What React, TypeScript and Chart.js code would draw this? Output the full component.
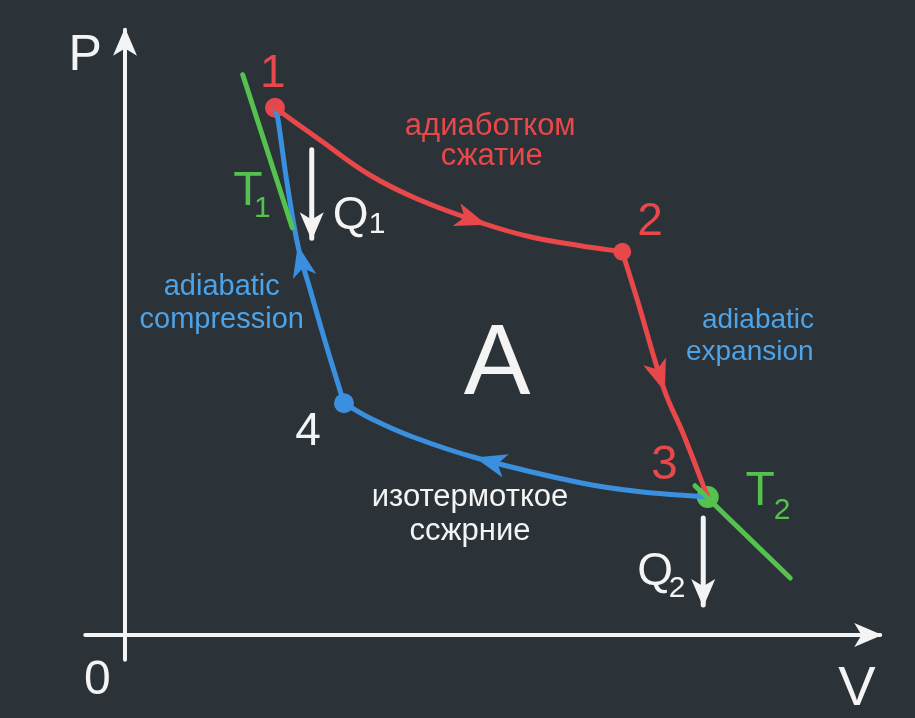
import { useEffect, useRef } from "react";
import { Chart, registerables } from "chart.js";

Chart.register(...registerables);

const BG = "#2b3338";
const RED = "#e8484a";
const BLUE = "#3a8fdf";
const BLUE_TXT = "#4ea2e6";
const GREEN = "#55c24f";
const WHITE = "#f4f4f4";
const FONT = '"Liberation Sans", Arial, Helvetica, sans-serif';

// Cycle curves in (V, P) units
const curve12 = [[2.0, 7.03], [2.6, 6.6], [3.27, 6.13], [3.93, 5.8], [4.8, 5.48], [5.4, 5.31], [6.07, 5.19], [6.63, 5.11]];
const curve23 = [[6.63, 5.11], [6.83, 4.47], [7.19, 3.27], [7.44, 2.69], [7.77, 1.84]];
const curve34 = [[7.77, 1.84], [6.87, 1.91], [6.07, 2.03], [4.69, 2.36], [3.84, 2.64], [3.27, 2.89], [2.92, 3.09]];
const curve41 = [[2.92, 3.09], [2.69, 3.84], [2.47, 4.6], [2.31, 5.17], [2.16, 6.03], [2.04, 6.87], [2.0, 7.03]];
const tangentT1 = [[1.57, 7.47], [2.23, 5.43]];
const tangentT2 = [[7.6, 1.99], [8.87, 0.76]];
const heatQ1 = [[2.49, 6.47], [2.49, 5.29]];
const heatQ2 = [[7.71, 1.56], [7.71, 0.4]];
const axisP = [[0, -0.33], [0, 8.07]];
const axisV = [[-0.53, 0], [10.07, 0]];
const statePoints = [[2.0, 7.03], [6.63, 5.11], [7.77, 1.84], [2.92, 3.09]];
const stateColors = ["#e4474c", "#e4474c", GREEN, BLUE];
const stateRadius = [10, 9, 11, 10];

// Labels: text, V, P (centre), colour, size, kind (c = caps/digits, l = lowercase)
const labels: [string, number, number, string, number, string][] = [
  ["P", -0.53, 7.77, WHITE, 50, "c"],
  ["0", -0.37, -0.55, WHITE, 48, "c"],
  ["V", 9.76, -0.67, WHITE, 56, "c"],
  ["1", 1.97, 7.53, RED, 46, "c"],
  ["2", 7.0, 5.56, RED, 46, "c"],
  ["3", 7.19, 2.31, RED, 48, "c"],
  ["4", 2.44, 2.76, WHITE, 46, "c"],
  ["адиаботком", 4.87, 6.77, RED, 31, "l"],
  ["сжатие", 4.89, 6.37, RED, 31, "l"],
  ["T", 1.64, 5.96, GREEN, 48, "c"],
  ["1", 1.83, 5.72, GREEN, 30, "c"],
  ["Q", 3.01, 5.64, WHITE, 46, "c"],
  ["1", 3.36, 5.51, WHITE, 30, "c"],
  ["adiabatic", 1.29, 4.63, BLUE_TXT, 29, "l"],
  ["compression", 1.29, 4.2, BLUE_TXT, 29, "l"],
  ["A", 4.96, 3.69, WHITE, 100, "c"],
  ["adiabatic", 8.44, 4.19, BLUE_TXT, 28, "l"],
  ["expansion", 8.33, 3.76, BLUE_TXT, 28, "l"],
  ["изотермоткое", 4.6, 1.83, WHITE, 31, "l"],
  ["ссжрние", 4.6, 1.37, WHITE, 31, "l"],
  ["T", 8.47, 1.97, GREEN, 48, "c"],
  ["2", 8.76, 1.69, GREEN, 30, "c"],
  ["Q", 7.07, 0.89, WHITE, 46, "c"],
  ["2", 7.36, 0.65, WHITE, 30, "c"],
];

const toPts = (a: number[][]) => a.map(([x, y]) => ({ x, y }));

// arrowheads: curve, index of tip, colour, length, half-width
const arrows: [number[][], number, string, number, number][] = [
  [curve12, 4, RED, 30, 12],
  [curve23, 2, RED, 30, 12],
  [curve34, 3, BLUE, 30, 12],
  [curve41, 3, BLUE, 30, 12],
  [axisP, 1, WHITE, 26, 12],
  [axisV, 1, WHITE, 26, 12],
  [heatQ1, 1, WHITE, 26, 12],
  [heatQ2, 1, WHITE, 26, 12],
];

const overlayPlugin = {
  id: "overlay",
  afterDatasetsDraw(chart: any) {
    const { ctx, scales } = chart;
    const xs = scales.x;
    const ys = scales.y;
    const px = (p: number[]) => [xs.getPixelForValue(p[0]), ys.getPixelForValue(p[1])];
    ctx.save();
    for (const [arr, i, color, L, W] of arrows) {
      const tip = px(arr[i]);
      const a = px(arr[i - 1]);
      const b = i + 1 < arr.length ? px(arr[i + 1]) : tip;
      let dx = b[0] - a[0];
      let dy = b[1] - a[1];
      const len = Math.hypot(dx, dy) || 1;
      dx /= len;
      dy /= len;
      const nx = -dy;
      const ny = dx;
      ctx.fillStyle = color;
      ctx.beginPath();
      ctx.moveTo(tip[0] + dx * 2, tip[1] + dy * 2);
      ctx.lineTo(tip[0] - dx * L + nx * W, tip[1] - dy * L + ny * W);
      ctx.lineTo(tip[0] - dx * L * 0.72, tip[1] - dy * L * 0.72);
      ctx.lineTo(tip[0] - dx * L - nx * W, tip[1] - dy * L - ny * W);
      ctx.closePath();
      ctx.fill();
    }
    ctx.textAlign = "center";
    ctx.textBaseline = "alphabetic";
    for (const [t, x, y, c, s, k] of labels) {
      const [cx, cy] = px([x, y]);
      ctx.font = `${s}px ${FONT}`;
      ctx.fillStyle = c;
      ctx.fillText(t, cx, cy + (k === "c" ? 0.36 : 0.26) * s);
    }
    ctx.restore();
  },
};

const lineDs = (data: number[][], color: string, width: number, tension: number) => ({
  data: toPts(data),
  showLine: true,
  borderColor: color,
  borderWidth: width,
  pointRadius: 0,
  tension,
  borderCapStyle: "round",
  fill: false,
});

export default function App() {
  const ref = useRef<HTMLCanvasElement | null>(null);
  useEffect(() => {
    if (!ref.current) return;
    const chart = new Chart(ref.current, {
      type: "scatter",
      data: {
        datasets: [
          lineDs(axisP, WHITE, 4, 0),
          lineDs(axisV, WHITE, 4, 0),
          lineDs(tangentT1, GREEN, 5, 0),
          lineDs(tangentT2, GREEN, 5, 0),
          lineDs(heatQ1, WHITE, 5, 0),
          lineDs(heatQ2, WHITE, 5, 0),
          lineDs(curve12, RED, 5, 0.4),
          lineDs(curve23, RED, 5, 0.4),
          lineDs(curve34, BLUE, 5, 0.4),
          lineDs(curve41, BLUE, 5, 0.4),
          {
            data: toPts(statePoints),
            showLine: false,
            pointRadius: stateRadius,
            pointBackgroundColor: stateColors,
            pointBorderWidth: 0,
          },
        ] as any,
      },
      options: {
        animation: false,
        responsive: false,
        layout: { padding: 0, autoPadding: false },
        plugins: { legend: { display: false }, tooltip: { enabled: false } },
        scales: {
          x: { type: "linear", min: -125 / 75, max: 790 / 75, display: false },
          y: { type: "linear", min: -83 / 75, max: 635 / 75, display: false },
        },
      },
      plugins: [overlayPlugin],
    });
    return () => chart.destroy();
  }, []);
  return (
    <div style={{ position: "absolute", left: 0, top: 0, width: 915, height: 718, background: BG }}>
      <canvas ref={ref} width={915} height={718} />
    </div>
  );
}
